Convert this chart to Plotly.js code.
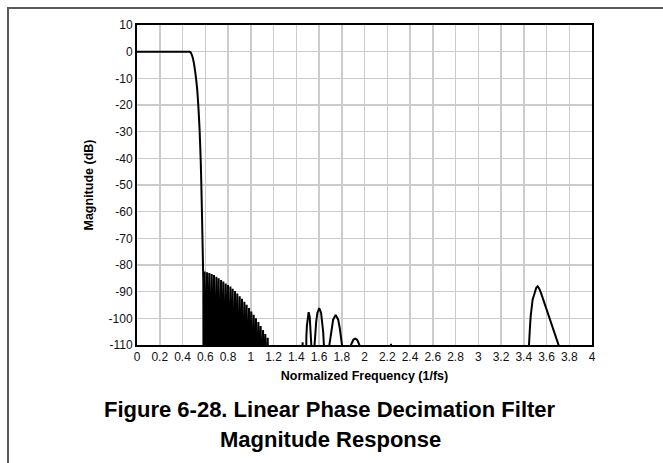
<!DOCTYPE html>
<html>
<head>
<meta charset="utf-8">
<script src="https://cdn.plot.ly/plotly-3.0.1.min.js"></script>
<style>
  html, body { margin: 0; padding: 0; background: #fff; }
  #wrap { position: relative; width: 663px; height: 463px; }
  #chart { width: 663px; height: 463px; }
  #frame { position: absolute; left: 7px; top: 7px; right: -4px; bottom: -4px;
           border-top: 2px solid #5a5a5a; border-left: 2px solid #5a5a5a; pointer-events: none; }
</style>
</head>
<body>
<div id="wrap">
  <div id="chart"></div>
  <div id="frame"></div>
</div>
<script>
// Passband and transition band (normalized frequency, dB)
const passFreq = [0, 0.10, 0.20, 0.30, 0.40, 0.455, 0.462, 0.470, 0.480, 0.490, 0.500, 0.510, 0.520, 0.530, 0.540, 0.550, 0.560, 0.565, 0.571, 0.577, 0.583];
const passDb   = [0, 0, 0, 0, 0, 0, -0.05, -0.25, -1.0, -2.3, -4.3, -7.0, -10.4, -14.6, -21.0, -29.0, -40.7, -49.0, -60.6, -73.0, -86.0];

// First stopband comb: alternating lobe peaks and nulls
const combFreq = [0.585, 0.595, 0.605, 0.616, 0.626, 0.636, 0.646, 0.657, 0.667, 0.677, 0.687, 0.698, 0.708, 0.718, 0.728,
                  0.739, 0.749, 0.759, 0.769, 0.780, 0.790, 0.800, 0.810, 0.821, 0.831, 0.841, 0.851, 0.862, 0.872,
                  0.882, 0.892, 0.903, 0.913, 0.923, 0.933, 0.944, 0.954, 0.964, 0.974, 0.985, 0.995, 1.005, 1.015,
                  1.026, 1.036, 1.046, 1.056, 1.067, 1.077, 1.087, 1.097, 1.108, 1.118, 1.128, 1.138, 1.149, 1.159];
const combDb   = [-130, -82.4, -130, -82.7, -130, -83.0, -130, -83.4, -130, -83.8, -130, -84.4, -130, -85.0, -130,
                  -85.6, -130, -86.2, -130, -86.9, -130, -87.5, -130, -88.1, -130, -88.9, -130, -89.8, -130,
                  -90.7, -130, -91.7, -130, -92.7, -130, -93.8, -130, -94.9, -130, -96.1, -130, -97.4, -130,
                  -98.7, -130, -100.0, -130, -101.4, -130, -102.9, -130, -104.4, -130, -105.9, -130, -107.3, -130];

// Side lobes between 1.4 and 2.3
const sideFreq = [1.450, 1.456, 1.462,
                  1.483, 1.4855, 1.489, 1.4937, 1.4996, 1.509, 1.5184, 1.5243, 1.529, 1.5325, 1.535,
                  1.557, 1.561, 1.5672, 1.5754, 1.5856, 1.602, 1.6184, 1.6286, 1.6369, 1.643, 1.647,
                  1.6855, 1.691, 1.6993, 1.7104, 1.7243, 1.7465, 1.7687, 1.7826, 1.7937, 1.802, 1.8075,
                  1.877, 1.881, 1.8866, 1.894, 1.9032, 1.918, 1.9328, 1.942, 1.9495, 1.955, 1.959,
                  2.226, 2.233, 2.240];
const sideDb   = [-130, -109.0, -130,
                  -130, -110, -106.7, -102.7, -99.5, -97.7, -99.5, -102.7, -106.7, -110, -130,
                  -130, -110, -105.2, -101.2, -98.0, -96.2, -98.0, -101.2, -105.2, -110, -130,
                  -130, -110, -107.7, -103.7, -100.5, -98.7, -100.5, -103.7, -107.7, -110, -130,
                  -130, -110, -109.4, -108.6, -107.95, -107.6, -107.95, -108.6, -109.4, -110, -130,
                  -130, -109.5, -130];

// Image lobe around 3.5
const imageFreq = [3.440, 3.446, 3.455, 3.461, 3.478, 3.495, 3.510, 3.522, 3.535, 3.550, 3.572, 3.600, 3.631, 3.670, 3.710, 3.730];
const imageDb   = [-130, -110, -103, -99.2, -93, -90, -88.5, -88.0, -88.8, -90.3, -93, -96.6, -100.5, -105.3, -110, -113];

const xTickVals = [0, 0.2, 0.4, 0.6, 0.8, 1, 1.2, 1.4, 1.6, 1.8, 2, 2.2, 2.4, 2.6, 2.8, 3, 3.2, 3.4, 3.6, 3.8, 4];
const xTickText = ['0', '0.2', '0.4', '0.6', '0.8', '1', '1.2', '1.4', '1.6', '1.8', '2', '2.2', '2.4', '2.6', '2.8', '3', '3.2', '3.4', '3.6', '3.8', '4'];
const yTickVals = [10, 0, -10, -20, -30, -40, -50, -60, -70, -80, -90, -100, -110];
const yTickText = ['10', '0', '-10', '-20', '-30', '-40', '-50', '-60', '-70', '-80', '-90', '-100', '-110'];

const font = 'Arial, "Liberation Sans", Helvetica, sans-serif';
const lineStyle = { color: '#000000', width: 2 };

const passTrace = {
  x: passFreq, y: passDb, type: 'scatter', mode: 'lines',
  line: { color: '#000000', width: 2, shape: 'spline', smoothing: 0.6 }, hoverinfo: 'skip'
};
const restTrace = {
  x: [passFreq[passFreq.length - 1]].concat(combFreq, sideFreq, imageFreq),
  y: [passDb[passDb.length - 1]].concat(combDb, sideDb, imageDb),
  type: 'scatter', mode: 'lines', line: lineStyle, hoverinfo: 'skip'
};

const layout = {
  width: 663, height: 463,
  margin: { l: 137, r: 71, t: 25, b: 118, pad: 0 },
  paper_bgcolor: '#ffffff', plot_bgcolor: '#ffffff',
  showlegend: false,
  font: { family: font, color: '#000000', size: 12 },
  xaxis: {
    range: [0, 4], tickvals: xTickVals, ticktext: xTickText,
    showgrid: true, gridcolor: '#cccccc', gridwidth: 1.5,
    zeroline: false, showline: true, mirror: true, linecolor: '#000000', linewidth: 2,
    ticks: '', tickfont: { family: font, size: 12, color: '#111111' },
    title: { text: '<b>Normalized Frequency (1/fs)</b>', font: { family: font, size: 12.5, color: '#000000' }, standoff: 8 },
    automargin: false
  },
  yaxis: {
    range: [-110, 10], tickvals: yTickVals, ticktext: yTickText,
    showgrid: true, gridcolor: '#cccccc', gridwidth: 1.5,
    zeroline: false, showline: true, mirror: true, linecolor: '#000000', linewidth: 2,
    ticks: '', tickfont: { family: font, size: 12, color: '#111111' },
    title: { text: '<b>Magnitude (dB)</b>', font: { family: font, size: 12.5, color: '#000000' }, standoff: 12 },
    automargin: false
  },
  annotations: [
    { xref: 'paper', yref: 'paper', x: (330 - 137) / 455, y: -(410 - 345.5) / 321,
      xanchor: 'center', yanchor: 'middle', showarrow: false,
      text: '<b>Figure 6-28. Linear Phase Decimation Filter</b>',
      font: { family: font, size: 22, color: '#000000' } },
    { xref: 'paper', yref: 'paper', x: (330 - 137) / 455, y: -(440 - 345.5) / 321,
      xanchor: 'center', yanchor: 'middle', showarrow: false,
      text: '<b>Magnitude Response</b>',
      font: { family: font, size: 22, color: '#000000' } }
  ]
};

Plotly.newPlot('chart', [passTrace, restTrace], layout, { staticPlot: true, displayModeBar: false });
</script>
</body>
</html>
